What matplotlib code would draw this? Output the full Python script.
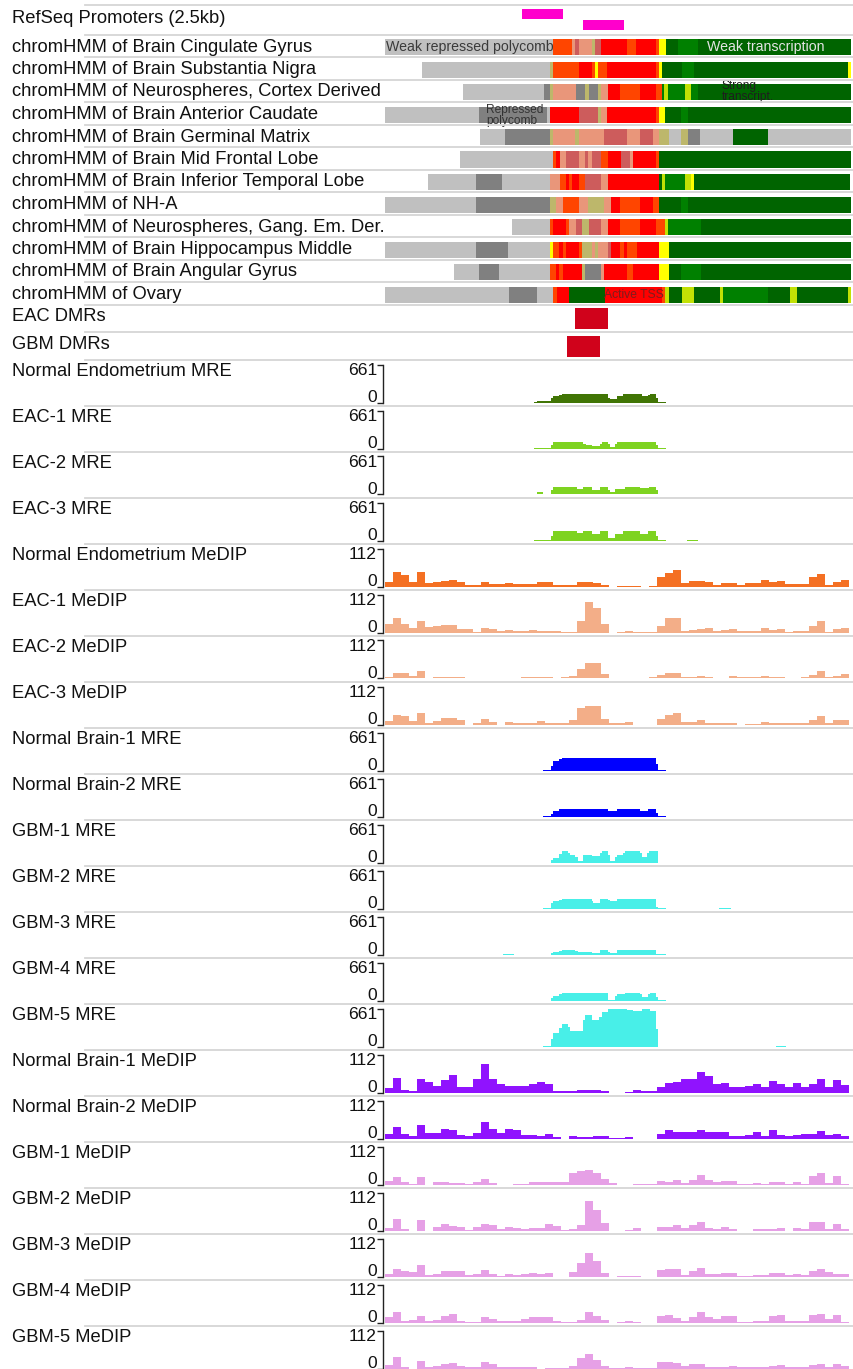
import matplotlib
matplotlib.use("Agg")
import matplotlib.pyplot as plt
from matplotlib.lines import Line2D
import numpy as np

plt.rcParams['font.family'] = ['Liberation Sans', 'DejaVu Sans']

# ---------------- data ----------------
GLEN = 466  # genomic window length (display units)

# RefSeq promoters: (start, end, lane)
PROMO_STARTS = [137, 198]
PROMO_ENDS = [178, 239]
PROMO_LANES = [0, 1]

STATE_COLORS = {
    'TssA': '#FF0000', 'TssFlnk': '#FF4500', 'BivFlnk': '#E9967A',
    'TssBiv': '#CD5C5C', 'EnhBiv': '#BDB76B', 'ReprPC': '#808080',
    'ReprPCWk': '#C0C0C0', 'Tx': '#008000', 'TxWk': '#006400',
    'EnhG': '#C2E105', 'EnhWk': '#FFFF00',
}

CHROM_NAMES = [
    "Brain Cingulate Gyrus", "Brain Substantia Nigra", "Neurospheres, Cortex Derived",
    "Brain Anterior Caudate", "Brain Germinal Matrix", "Brain Mid Frontal Lobe",
    "Brain Inferior Temporal Lobe", "NH-A", "Neurospheres, Gang. Em. Der.",
    "Brain Hippocampus Middle", "Brain Angular Gyrus", "Ovary",
]

CHROM_SEGS = [
    [(0, 168, 'ReprPCWk'), (168, 187, 'TssFlnk'), (187, 190, 'BivFlnk'), (190, 194, 'TssBiv'),
     (194, 207, 'BivFlnk'), (207, 210, 'EnhBiv'), (210, 216, 'TssBiv'), (216, 242, 'TssA'),
     (242, 251, 'TssFlnk'), (251, 271, 'TssA'), (271, 274, 'TssFlnk'), (274, 281, 'EnhWk'),
     (281, 293, 'TxWk'), (293, 313, 'Tx'), (313, 466, 'TxWk')],
    [(37, 165, 'ReprPCWk'), (165, 168, 'EnhBiv'), (168, 194, 'TssFlnk'), (194, 207, 'TssA'),
     (207, 210, 'TssFlnk'), (210, 213, 'EnhWk'), (213, 222, 'TssFlnk'), (222, 271, 'TssA'),
     (271, 274, 'TssFlnk'), (274, 277, 'EnhWk'), (277, 297, 'TxWk'), (297, 309, 'Tx'),
     (309, 463, 'TxWk'), (463, 466, 'EnhWk')],
    [(78, 159, 'ReprPCWk'), (159, 165, 'ReprPC'), (165, 168, 'EnhBiv'), (168, 191, 'BivFlnk'),
     (191, 200, 'ReprPC'), (200, 204, 'EnhBiv'), (204, 213, 'ReprPC'), (213, 216, 'EnhBiv'),
     (216, 223, 'BivFlnk'), (223, 235, 'TssA'), (235, 255, 'TssFlnk'), (255, 271, 'TssA'),
     (271, 277, 'TssFlnk'), (277, 279, 'Tx'), (279, 283, 'EnhG'), (283, 300, 'Tx'),
     (300, 306, 'EnhG'), (306, 313, 'Tx'), (313, 466, 'TxWk')],
    [(0, 94, 'ReprPCWk'), (94, 162, 'ReprPC'), (162, 165, 'ReprPCWk'), (165, 194, 'TssA'),
     (194, 213, 'TssBiv'), (213, 216, 'EnhBiv'), (216, 222, 'BivFlnk'), (222, 271, 'TssA'),
     (271, 274, 'TssFlnk'), (274, 280, 'EnhWk'), (280, 296, 'TxWk'), (296, 303, 'Tx'),
     (303, 466, 'TxWk')],
    [(95, 120, 'ReprPCWk'), (120, 165, 'ReprPC'), (165, 168, 'EnhBiv'), (168, 190, 'BivFlnk'),
     (190, 194, 'EnhBiv'), (194, 219, 'BivFlnk'), (219, 242, 'TssBiv'), (242, 255, 'BivFlnk'),
     (255, 268, 'TssBiv'), (268, 274, 'BivFlnk'), (274, 284, 'EnhBiv'), (284, 296, 'ReprPCWk'),
     (296, 303, 'EnhBiv'), (303, 315, 'ReprPC'), (315, 348, 'ReprPCWk'), (348, 383, 'TxWk'),
     (383, 466, 'ReprPCWk')],
    [(75, 168, 'ReprPCWk'), (168, 171, 'TssFlnk'), (171, 175, 'TssA'), (175, 181, 'BivFlnk'),
     (181, 194, 'TssBiv'), (194, 200, 'BivFlnk'), (200, 203, 'TssBiv'), (203, 207, 'BivFlnk'),
     (207, 216, 'TssBiv'), (216, 223, 'TssFlnk'), (223, 236, 'TssA'), (236, 245, 'TssBiv'),
     (245, 248, 'BivFlnk'), (248, 271, 'TssA'), (271, 274, 'TssFlnk'), (274, 466, 'TxWk')],
    [(43, 91, 'ReprPCWk'), (91, 117, 'ReprPC'), (117, 165, 'ReprPCWk'), (165, 175, 'BivFlnk'),
     (175, 181, 'TssFlnk'), (181, 184, 'TssA'), (184, 187, 'TssFlnk'), (187, 194, 'TssA'),
     (194, 200, 'TssFlnk'), (200, 216, 'TssBiv'), (216, 223, 'BivFlnk'), (223, 274, 'TssA'),
     (274, 277, 'TxWk'), (277, 280, 'EnhG'), (280, 300, 'Tx'), (300, 306, 'EnhG'),
     (306, 309, 'EnhWk'), (309, 465, 'TxWk')],
    [(0, 91, 'ReprPCWk'), (91, 165, 'ReprPC'), (165, 171, 'EnhBiv'), (171, 178, 'BivFlnk'),
     (178, 194, 'TssFlnk'), (194, 203, 'BivFlnk'), (203, 219, 'EnhBiv'), (219, 226, 'BivFlnk'),
     (226, 235, 'TssA'), (235, 255, 'TssFlnk'), (255, 268, 'TssA'), (268, 274, 'TssFlnk'),
     (274, 296, 'TxWk'), (296, 303, 'Tx'), (303, 466, 'TxWk')],
    [(127, 165, 'ReprPCWk'), (165, 168, 'TssFlnk'), (168, 181, 'TssA'), (181, 184, 'TssFlnk'),
     (184, 191, 'BivFlnk'), (191, 197, 'TssBiv'), (197, 204, 'EnhBiv'), (204, 216, 'TssBiv'),
     (216, 223, 'BivFlnk'), (223, 235, 'TssA'), (235, 255, 'TssFlnk'), (255, 271, 'TssA'),
     (271, 280, 'TssFlnk'), (280, 283, 'EnhG'), (283, 316, 'Tx'), (316, 466, 'TxWk')],
    [(0, 91, 'ReprPCWk'), (91, 123, 'ReprPC'), (123, 165, 'ReprPCWk'), (165, 168, 'EnhWk'),
     (168, 174, 'TssFlnk'), (174, 178, 'TssA'), (178, 181, 'TssFlnk'), (181, 194, 'TssA'),
     (194, 197, 'TssFlnk'), (197, 207, 'EnhBiv'), (207, 210, 'BivFlnk'), (210, 213, 'EnhBiv'),
     (213, 223, 'BivFlnk'), (223, 226, 'TssBiv'), (226, 235, 'TssA'), (235, 239, 'TssFlnk'),
     (239, 242, 'TssA'), (242, 252, 'TssFlnk'), (252, 274, 'TssA'), (274, 284, 'EnhWk'),
     (284, 466, 'TxWk')],
    [(69, 94, 'ReprPCWk'), (94, 114, 'ReprPC'), (114, 165, 'ReprPCWk'), (165, 171, 'TssFlnk'),
     (171, 174, 'TssA'), (174, 178, 'TssFlnk'), (178, 197, 'TssA'), (197, 200, 'EnhBiv'),
     (200, 216, 'ReprPC'), (216, 219, 'BivFlnk'), (219, 242, 'TssA'), (242, 248, 'TssFlnk'),
     (248, 274, 'TssA'), (274, 284, 'EnhWk'), (284, 296, 'TxWk'), (296, 316, 'Tx'),
     (316, 466, 'TxWk')],
    [(0, 124, 'ReprPCWk'), (124, 152, 'ReprPC'), (152, 168, 'ReprPCWk'), (168, 172, 'TssFlnk'),
     (172, 184, 'TssA'), (184, 220, 'TxWk'), (220, 277, 'TssA'), (277, 280, 'TssFlnk'),
     (280, 284, 'EnhG'), (284, 297, 'TxWk'), (297, 309, 'EnhG'), (309, 335, 'TxWk'),
     (335, 338, 'EnhG'), (338, 383, 'Tx'), (383, 405, 'TxWk'), (405, 412, 'EnhG'),
     (412, 463, 'TxWk'), (463, 466, 'EnhG')],
]

EAC_DMR = (190, 223)
GBM_DMR = (182, 215)

# MRE tracks: step edges and values (max 661)
MRE_TRACKS = {
    "Normal Endometrium MRE": (
        [149, 151.7, 166, 168.3, 174.3, 176.7, 223.3, 225, 231.7, 238.3, 256.7, 262.7, 265, 271, 273, 281],
        [11, 29, 86, 109, 132, 144, 86, 63, 109, 144, 109, 132, 144, 75, 11]),
    "EAC-1 MRE": (
        [149, 166, 168.3, 198.3, 201, 206.7, 215, 216.7, 223.3, 225, 230, 231.7, 271, 273, 281],
        [11, 57, 109, 75, 57, 40, 75, 109, 75, 29, 75, 109, 57, 11]),
    "EAC-2 MRE": (
        [141.7, 149, 151.7, 158.3, 166, 168.3, 191.7, 198.3, 206.7, 215, 223.3, 225, 230, 240, 255, 264.3, 271, 273, 281],
        [11, 17, 40, 17, 75, 126, 92, 126, 75, 126, 75, 52, 103, 126, 109, 126, 75, 11]),
    "EAC-3 MRE": (
        [149, 151.7, 166, 168.3, 191.7, 198.3, 206.7, 215, 223.3, 230, 238.3, 255, 263.3, 271, 273, 281, 301.7, 313.3],
        [6, 17, 80, 161, 132, 161, 109, 161, 52, 109, 161, 109, 161, 75, 11, 0, 11]),
    "Normal Brain-1 MRE": (
        [158.3, 166, 168.3, 174.3, 176.7, 271, 273, 281],
        [6, 86, 172, 201, 224, 115, 6]),
    "Normal Brain-2 MRE": (
        [158.3, 166, 168.3, 174.3, 176.7, 223.3, 225, 231.7, 255, 262.7, 271, 273, 281],
        [6, 46, 103, 126, 138, 103, 92, 138, 92, 138, 57, 6]),
    "GBM-1 MRE": (
        [166, 168.3, 174.3, 176.7, 183.3, 185, 190, 193.3, 198.3, 206.7, 215, 216.7, 223.3, 225, 230,
         231.7, 238.3, 240, 255, 256.7, 261.7, 264.3, 273],
        [46, 80, 144, 201, 172, 138, 92, 34, 132, 121, 161, 201, 138, 34, 92, 138, 167, 201, 161, 98, 161, 201]),
    "GBM-2 MRE": (
        [158.3, 166, 168.3, 174.3, 176.7, 206.7, 208.3, 215, 223.3, 225, 231.7, 271, 273, 281, 334, 346],
        [11, 92, 132, 150, 167, 132, 103, 167, 150, 132, 167, 34, 17, 0, 11]),
    "GBM-3 MRE": (
        [118.3, 129, 166, 168.3, 174.3, 176.7, 190, 193.3, 206.7, 215, 223.3, 225, 231.7, 271, 281],
        [11, 0, 34, 52, 69, 86, 63, 46, 34, 80, 52, 23, 86, 11]),
    "GBM-4 MRE": (
        [166, 168.3, 174.3, 176.7, 223.3, 230, 231.7, 240, 255, 256.7, 262.7, 265, 271, 273, 281],
        [52, 86, 109, 132, 17, 86, 109, 132, 109, 69, 109, 132, 69, 11]),
    "GBM-5 MRE": (
        [158.3, 166, 168.3, 174.3, 176.7, 182.7, 185, 198.3, 200, 206.7, 214.3, 216.7, 222.7, 231.7,
         241.7, 247.7, 256.7, 262.7, 265, 271, 273, 391, 401],
        [11, 132, 241, 316, 391, 345, 270, 460, 546, 460, 517, 603, 661, 644, 632, 621, 661, 644, 615, 305, 0, 11]),
}

# MeDIP tracks: 58 bins of 8 units (max 112)
MEDIP_BIN = 8
MEDIP_TRACKS = {
    "Normal Endometrium MeDIP": [13, 44, 34, 13, 44, 10, 12, 17, 18, 13, 3, 3, 13, 7, 7, 10, 7, 7, 7, 12,
                                 12, 5, 5, 5, 13, 13, 10, 5, 0, 2, 2, 2, 0, 2, 28, 41, 48, 10, 15, 17,
                                 13, 5, 10, 10, 5, 10, 10, 20, 13, 17, 7, 8, 8, 28, 37, 5, 14, 18],
    "EAC-1 MeDIP": [25, 42, 25, 12, 34, 15, 19, 22, 22, 10, 10, 2, 13, 10, 4, 7, 5, 5, 7, 3,
                    4, 4, 2, 2, 34, 90, 73, 25, 0, 2, 5, 2, 2, 2, 19, 43, 43, 4, 7, 10,
                    12, 4, 7, 9, 3, 5, 5, 13, 7, 9, 2, 5, 5, 19, 35, 2, 9, 12],
    "EAC-2 MeDIP": [5, 17, 17, 8, 21, 0, 3, 3, 3, 3, 0, 1, 1, 1, 1, 1, 1, 3, 3, 3,
                    3, 0, 3, 8, 28, 46, 46, 13, 0, 0, 2, 2, 2, 3, 11, 16, 16, 3, 5, 6,
                    3, 0, 2, 6, 3, 3, 3, 8, 5, 3, 2, 2, 5, 10, 23, 5, 6, 13],
    "EAC-3 MeDIP": [10, 28, 26, 10, 33, 3, 10, 18, 18, 12, 0, 3, 15, 8, 0, 7, 3, 3, 5, 10,
                    5, 3, 5, 12, 48, 56, 56, 15, 3, 3, 6, 0, 0, 0, 15, 27, 35, 8, 8, 13,
                    5, 3, 5, 5, 0, 2, 2, 6, 5, 5, 3, 4, 5, 13, 25, 3, 13, 12],
    "Normal Brain-1 MeDIP": [13, 42, 8, 5, 40, 30, 20, 37, 52, 15, 15, 40, 84, 40, 25, 20, 20, 20, 24, 31,
                             24, 3, 3, 3, 8, 8, 8, 3, 0, 0, 2, 6, 3, 3, 17, 27, 32, 40, 40, 60,
                             50, 24, 29, 17, 17, 20, 26, 17, 34, 26, 17, 29, 17, 26, 40, 17, 37, 21],
    "Normal Brain-2 MeDIP": [13, 34, 13, 6, 41, 16, 16, 28, 24, 10, 6, 16, 48, 29, 16, 28, 26, 11, 11, 8,
                             13, 4, 0, 6, 4, 4, 7, 7, 2, 2, 5, 0, 0, 0, 13, 24, 20, 20, 20, 26,
                             18, 18, 18, 8, 8, 10, 18, 8, 24, 11, 6, 11, 13, 13, 21, 10, 13, 6],
    "GBM-1 MeDIP": [10, 22, 6, 2, 22, 0, 6, 6, 4, 4, 2, 6, 16, 4, 0, 0, 2, 2, 8, 8,
                    8, 6, 6, 34, 41, 44, 34, 16, 4, 0, 0, 2, 2, 2, 10, 6, 14, 4, 12, 28,
                    14, 6, 10, 10, 2, 2, 4, 2, 7, 7, 2, 7, 2, 26, 34, 4, 24, 2],
    "GBM-2 MeDIP": [7, 34, 4, 0, 32, 0, 10, 20, 12, 10, 2, 10, 20, 17, 4, 10, 7, 4, 7, 7,
                    20, 12, 2, 4, 17, 86, 59, 22, 0, 0, 2, 7, 0, 0, 10, 10, 17, 7, 17, 24,
                    7, 4, 10, 4, 0, 0, 4, 4, 4, 7, 0, 7, 4, 24, 24, 4, 20, 4],
    "GBM-3 MeDIP": [7, 23, 15, 12, 35, 5, 8, 15, 17, 17, 5, 8, 20, 8, 2, 8, 5, 8, 10, 8,
                    10, 0, 0, 13, 40, 70, 45, 10, 0, 2, 2, 2, 0, 0, 20, 23, 23, 5, 15, 25,
                    8, 8, 10, 10, 2, 2, 3, 3, 10, 10, 3, 7, 3, 15, 23, 12, 7, 7],
    "GBM-4 MeDIP": [15, 31, 3, 8, 20, 3, 8, 18, 26, 3, 1, 1, 15, 10, 3, 3, 3, 11, 15, 15,
                    15, 3, 1, 1, 8, 31, 18, 6, 0, 1, 5, 1, 0, 0, 18, 21, 13, 3, 15, 30,
                    15, 11, 18, 18, 1, 1, 5, 5, 18, 21, 5, 5, 5, 21, 26, 11, 21, 1],
    "GBM-5 MeDIP": [10, 33, 3, 0, 22, 3, 7, 12, 15, 7, 3, 3, 18, 13, 3, 3, 3, 3, 3, 0,
                    1, 1, 1, 7, 30, 43, 25, 7, 1, 1, 5, 1, 1, 1, 18, 18, 15, 7, 13, 13,
                    5, 5, 5, 8, 3, 3, 3, 3, 7, 10, 3, 3, 3, 10, 13, 5, 12, 8],
}

TRACK_ORDER = [
    ("Normal Endometrium MRE", '#417505'), ("EAC-1 MRE", '#7ED321'), ("EAC-2 MRE", '#7ED321'),
    ("EAC-3 MRE", '#7ED321'), ("Normal Endometrium MeDIP", '#F47023'), ("EAC-1 MeDIP", '#F3AE88'),
    ("EAC-2 MeDIP", '#F3AE88'), ("EAC-3 MeDIP", '#F3AE88'), ("Normal Brain-1 MRE", '#0000FF'),
    ("Normal Brain-2 MRE", '#0000FF'), ("GBM-1 MRE", '#48EFE8'), ("GBM-2 MRE", '#48EFE8'),
    ("GBM-3 MRE", '#48EFE8'), ("GBM-4 MRE", '#48EFE8'), ("GBM-5 MRE", '#48EFE8'),
    ("Normal Brain-1 MeDIP", '#9013FE'), ("Normal Brain-2 MeDIP", '#9013FE'),
    ("GBM-1 MeDIP", '#E6A0E6'), ("GBM-2 MeDIP", '#E6A0E6'), ("GBM-3 MeDIP", '#E6A0E6'),
    ("GBM-4 MeDIP", '#E6A0E6'), ("GBM-5 MeDIP", '#E6A0E6'),
]
MRE_MAX = 661
MEDIP_MAX = 112

# ---------------- layout ----------------
W, H = 854, 1369
DX0, DX1 = 385, 851
LABEL_FS = 13.2
NUM_FS = 12.6

fig = plt.figure(figsize=(W / 100, H / 100), dpi=100)
fig.patch.set_facecolor('white')


def fx(x):
    return x / W


def fy(y):
    return 1 - y / H


def add_ax(ytop, ybot, x0=DX0, x1=DX1):
    ax = fig.add_axes([x0 / W, 1 - ybot / H, (x1 - x0) / W, (ybot - ytop) / H])
    ax.set_xlim(0, GLEN)
    return ax


def hline(y, x0=85, x1=854):
    fig.add_artist(Line2D([fx(x0), fx(x1)], [fy(y), fy(y)], color='#d6d6d6', lw=1.3))


def label(y_base, text):
    fig.text(fx(12), fy(y_base), text, fontsize=LABEL_FS, va='baseline', ha='left', color='#111111')


# RefSeq promoters
hline(5)
label(22.7, "RefSeq Promoters (2.5kb)")
ax = add_ax(5, 34.5)
ax.set_ylim(1.864, -0.818)
ax.axis('off')
ax.barh(PROMO_LANES, np.array(PROMO_ENDS) - np.array(PROMO_STARTS), left=PROMO_STARTS,
        height=0.909, color='#FF00CC', linewidth=0)

# chromHMM rows
chrom_axes = []
for r, (name, segs) in enumerate(zip(CHROM_NAMES, CHROM_SEGS)):
    sep = 34.5 + 22.5 * r
    hline(sep)
    label(sep + 17, "chromHMM of " + name)
    ax = add_ax(sep + 4.5, sep + 20.5)
    ax.set_ylim(0, 1)
    ax.axis('off')
    ax.broken_barh([(s, e - s) for s, e, _ in segs], (0, 1),
                   facecolors=[STATE_COLORS[st] for _, _, st in segs], linewidth=0,
                   antialiased=False)
    chrom_axes.append(ax)

# overlay state labels
chrom_axes[0].text(1, 0.5, "Weak repressed polycomb", fontsize=10.2, color='#3a3a3a',
                   ha='left', va='center', clip_on=False)
chrom_axes[0].text(322, 0.5, "Weak transcription", fontsize=10.2, color='#e4e4e4',
                   ha='left', va='center', clip_on=False)
chrom_axes[2].text(337, 0.55, "Strong\ntranscript.", fontsize=8.6, color='#1e1e1e',
                   ha='left', va='center', linespacing=0.9, clip_on=False)
chrom_axes[3].text(101, 0.45, "Repressed\npolycomb", fontsize=8.6, color='#333333',
                   ha='left', va='center', linespacing=0.9, clip_on=False)
chrom_axes[11].text(219, 0.5, "Active TSS", fontsize=8.7, color='#7f1d1d',
                    ha='left', va='center', clip_on=False)

# DMRs
hline(304.5)
label(320.7, "EAC DMRs")
ax = add_ax(308, 329)
ax.set_ylim(0, 1)
ax.axis('off')
ax.broken_barh([(EAC_DMR[0], EAC_DMR[1] - EAC_DMR[0])], (0, 1), facecolors='#D0021B', linewidth=0)

hline(332)
label(349, "GBM DMRs")
ax = add_ax(336, 357)
ax.set_ylim(0, 1)
ax.axis('off')
ax.broken_barh([(GBM_DMR[0], GBM_DMR[1] - GBM_DMR[0])], (0, 1), facecolors='#D0021B', linewidth=0)

# signal tracks
for k, (name, color) in enumerate(TRACK_ORDER):
    t = 360 + 46 * k
    hline(t)
    label(t + 15.7, name)
    ax = add_ax(t + 4.5, t + 42.5)
    if name in MRE_TRACKS:
        edges, vals = MRE_TRACKS[name]
        vmax = MRE_MAX
    else:
        vals = MEDIP_TRACKS[name]
        edges = np.arange(len(vals) + 1) * MEDIP_BIN
        vmax = MEDIP_MAX
    ax.stairs(vals, edges, fill=True, color=color, linewidth=0, baseline=0)
    ax.set_ylim(0, vmax)
    ax.set_xlim(0, GLEN)
    ax.set_facecolor('none')
    for s in ('top', 'right', 'bottom'):
        ax.spines[s].set_visible(False)
    ax.spines['left'].set_position(('outward', 1.1))
    ax.spines['left'].set_color('#222222')
    ax.spines['left'].set_linewidth(1.0)
    ax.set_xticks([])
    ax.set_yticks([0, vmax])
    ax.set_yticklabels([])
    ax.tick_params(axis='y', direction='out', length=4.3, width=1.0, color='#222222')
    fig.text(fx(377), fy(t + 3.0), str(vmax), fontsize=NUM_FS, ha='right', va='top', color='#111111')
    fig.text(fx(377), fy(t + 42.2), "0", fontsize=NUM_FS, ha='right', va='baseline', color='#111111')

fig.savefig("out.png", dpi=100, facecolor='white')
